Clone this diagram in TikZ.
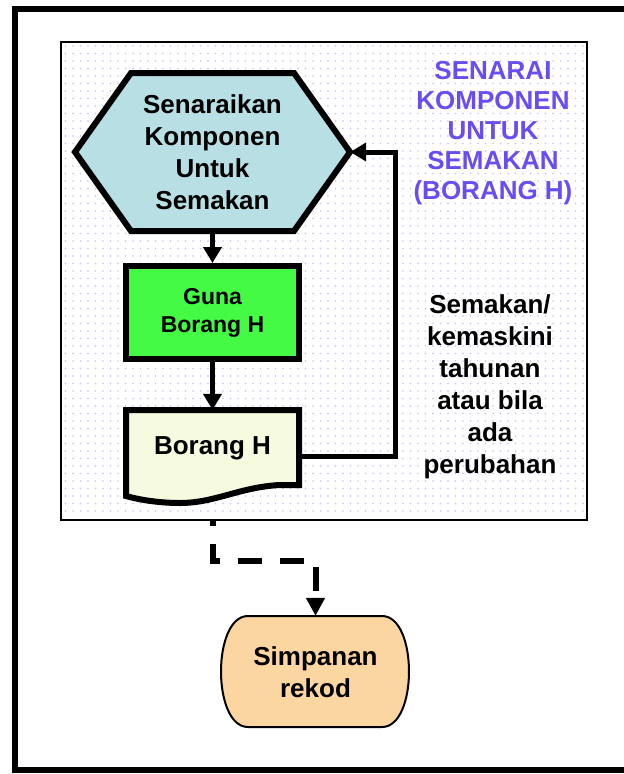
\documentclass[tikz,border=0pt]{standalone}
\usepackage{fontspec}
\setmainfont{Liberation Sans}
\usetikzlibrary{arrows.meta}
\definecolor{hexblue}{RGB}{184,224,228}
\definecolor{gunagreen}{RGB}{68,250,68}
\definecolor{docyellow}{RGB}{246,250,222}
\definecolor{storeorange}{RGB}{252,214,160}
\definecolor{titlepurple}{RGB}{104,78,240}
\definecolor{dotblue}{RGB}{190,200,236}
\begin{document}
\begin{tikzpicture}[x=1pt,y=-1pt,
	bigtext/.style={align=center,font=\bfseries\fontsize{26}{32}\selectfont},
	flowline/.style={line width=5pt,-{Triangle[width=18pt,length=16pt]}},
	dashline/.style={line width=6pt,dash pattern=on 24pt off 18pt,dash phase=19pt,-{Triangle[width=18pt,length=18pt]}}]
	\useasboundingbox (0,0) rectangle (624,774);
	\clip (0,0) rectangle (624,774);
	\draw [line width=6pt] (640,9) -- (15,9) -- (15,770) -- (640,770);

	\node [draw,line width=2pt,fill=white,minimum width=526,minimum height=478] (panel) at (324,281) {};
	\foreach \i in {0,...,69}
		\foreach \j in {0,...,62}
			\fill [dotblue] (65.5+7.5*\i,46+7.5*\j) circle (0.9pt);

	\draw [line width=6pt,line join=miter,fill=hexblue] (75,152) -- (131,73) -- (294,73) -- (350,152) -- (294,231) -- (131,231) -- cycle;
	\draw [line width=6pt,fill=docyellow] (126,410) -- (299,410) -- (299,485) -- (280,485) .. controls (240,487) and (215,503) .. (180,503) .. controls (160,503) and (140,500) .. (126,496) -- cycle;
	\draw [line width=2pt,fill=storeorange] (248,616) -- (382,616) .. controls (418,616) and (418,727) .. (382,727) -- (248,727) .. controls (212,727) and (212,616) .. (248,616) -- cycle;

	\node [bigtext,minimum width=275,minimum height=158] (list) at (212.5,152) {Senaraikan\\Komponen\\Untuk\\Semakan};
	\node [draw,line width=6pt,fill=gunagreen,align=center,font=\bfseries\fontsize{23}{28}\selectfont,minimum width=173,minimum height=93] (guna) at (212.5,312.5) {Guna\\Borang H};
	\node [bigtext,minimum width=173,minimum height=76] (doc) at (212.5,448) {Borang H};
	\node [bigtext,minimum width=190,minimum height=112] (store) at (315.5,672) {Simpanan\\rekod};
	\node [align=center,text=titlepurple,font=\bfseries\fontsize{26}{30}\selectfont] (title) at (493,133) {SENARAI\\KOMPONEN\\UNTUK\\SEMAKAN\\(BORANG H)};
	\node [bigtext] (note) at (490,387) {Semakan/\\kemaskini\\tahunan\\atau bila\\ada\\perubahan};

	\draw [flowline] (list.south) -- (guna.north);
	\draw [flowline] (guna.south) -- (doc.north);
	\draw [flowline] ([yshift=-8pt]doc.east) -- ++(96,0) |- (list.east);
	\draw [dashline] (doc.south |- panel.south) -- ++(0,40) -| (store.north);
\end{tikzpicture}
\end{document}
